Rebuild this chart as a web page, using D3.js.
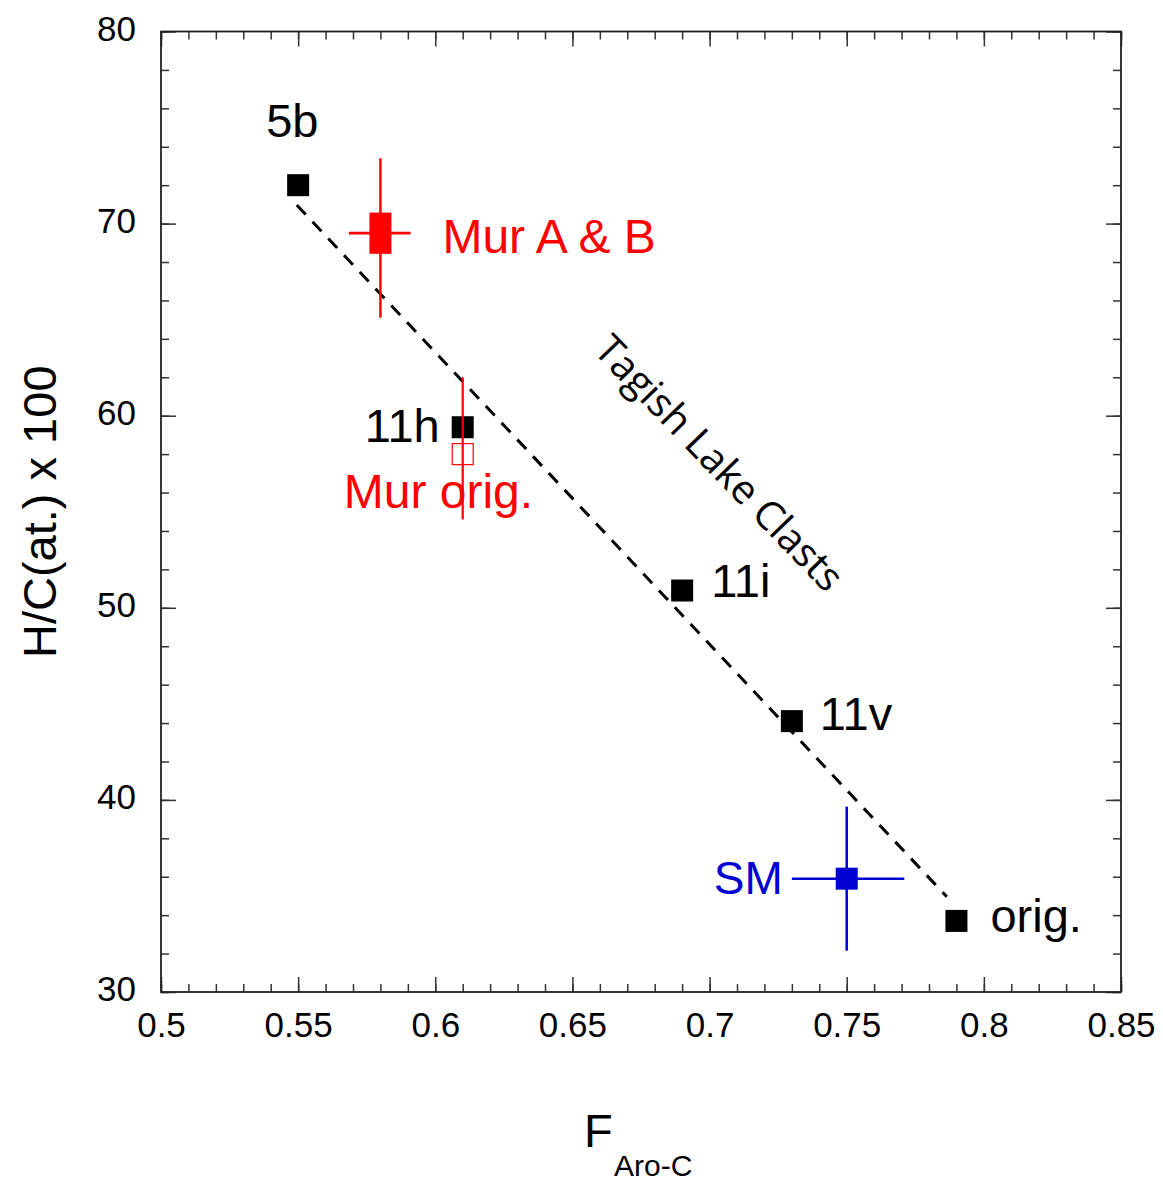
<!DOCTYPE html>
<html>
<head>
<meta charset="utf-8">
<script src="https://cdn.jsdelivr.net/npm/d3@7"></script>
<style>
  body { margin: 0; background: #fff; }
  text { font-family: "Liberation Sans", Arial, Helvetica, sans-serif; }
</style>
</head>
<body>
<svg id="chart" width="1163" height="1184"></svg>
<script>
// ---- data ----
const clastNames = ["5b", "11h", "11i", "11v", "orig."];
const clastF     = [0.55, 0.61, 0.69, 0.73, 0.79];
const clastHC    = [72.0, 59.4, 50.9, 44.1, 33.7];

// Tagish Lake trend (dashed) line endpoints
const trendF  = [0.5495, 0.7865];
const trendHC = [70.97, 34.96];

// Murchison A & B (two overlapping points) with one error cross
const murABNames = ["Mur A", "Mur B"];
const murABF     = [0.58, 0.58];
const murABHC    = [70.0, 69.0];
const murABErr   = { f: 0.58, hc: 69.5, fLow: 0.5685, fHigh: 0.591, hcLow: 65.1, hcHigh: 73.4 };

// Murchison original (open symbol)
const murOrig    = { f: 0.61, hc: 58.0, hcLow: 54.6, hcHigh: 62.0 };

// SM
const smPoint    = { f: 0.75, hc: 35.9, fLow: 0.730, fHigh: 0.771, hcLow: 32.15, hcHigh: 39.65 };

const xMajorTicks = [0.5, 0.55, 0.6, 0.65, 0.7, 0.75, 0.8, 0.85];
const xTickLabels = ["0.5", "0.55", "0.6", "0.65", "0.7", "0.75", "0.8", "0.85"];
const yMajorTicks = [30, 40, 50, 60, 70, 80];
const yTickLabels = ["30", "40", "50", "60", "70", "80"];
const xMinorTicks = d3.range(0, 36).map(i => 0.5 + i * 0.01);
const yMinorTicks = d3.range(0, 26).map(i => 30 + i * 2);

// ---- layout ----
const L = 161, R = 1121, T = 31.5, B = 992;
const RED = "#ff0000", BLUE = "#0000d0";

const svg = d3.select("#chart");
const x = d3.scaleLinear().domain([0.5, 0.85]).range([L, R]);
const y = d3.scaleLinear().domain([30, 80]).range([B, T]);

// ---- axes ----
function styleAxis(g) {
  g.select(".domain").remove();
  g.selectAll(".tick line").attr("stroke", "#333").attr("stroke-width", 1.5);
  g.selectAll(".tick text").attr("fill", "#000").style("font-size", "35px")
    .style("font-family", '"Liberation Sans", Arial, sans-serif');
}
const fmtX = d => xTickLabels[xMajorTicks.indexOf(d)];
const fmtY = d => yTickLabels[yMajorTicks.indexOf(d)];

// minor ticks
svg.append("g").attr("transform", `translate(0,${B})`)
  .call(d3.axisBottom(x).tickValues(xMinorTicks).tickSize(-8).tickFormat(""))
  .call(styleAxis);
svg.append("g").attr("transform", `translate(0,${T})`)
  .call(d3.axisTop(x).tickValues(xMinorTicks).tickSize(-8).tickFormat(""))
  .call(styleAxis);
svg.append("g").attr("transform", `translate(${L},0)`)
  .call(d3.axisLeft(y).tickValues(yMinorTicks).tickSize(-8).tickFormat(""))
  .call(styleAxis);
svg.append("g").attr("transform", `translate(${R},0)`)
  .call(d3.axisRight(y).tickValues(yMinorTicks).tickSize(-8).tickFormat(""))
  .call(styleAxis);

// major ticks
svg.append("g").attr("transform", `translate(0,${B})`)
  .call(d3.axisBottom(x).tickValues(xMajorTicks).tickSize(-15).tickPadding(20).tickFormat(fmtX))
  .call(styleAxis);
svg.append("g").attr("transform", `translate(0,${T})`)
  .call(d3.axisTop(x).tickValues(xMajorTicks).tickSize(-15).tickFormat(""))
  .call(styleAxis);
svg.append("g").attr("transform", `translate(${L},0)`)
  .call(d3.axisLeft(y).tickValues(yMajorTicks).tickSize(-15).tickPadding(25).tickFormat(fmtY))
  .call(styleAxis)
  .call(g => g.selectAll(".tick text").attr("dy", "0.25em"));
svg.append("g").attr("transform", `translate(${R},0)`)
  .call(d3.axisRight(y).tickValues(yMajorTicks).tickSize(-15).tickFormat(""))
  .call(styleAxis);

// frame
svg.append("rect").attr("x", L).attr("y", T).attr("width", R - L).attr("height", B - T)
  .attr("fill", "none").attr("stroke", "#222").attr("stroke-width", 1.8);

// axis titles
svg.append("text").attr("transform", `translate(56,${(T + B) / 2}) rotate(-90)`)
  .attr("text-anchor", "middle").style("font-size", "47px").text("H/C(at.) x 100");
const xt = svg.append("text").attr("x", 584).attr("y", 1147).style("font-size", "47px");
xt.append("tspan").text("F");
xt.append("tspan").attr("x", 614).attr("y", 1176).style("font-size", "30px").text("Aro-C");

// ---- trend line ----
const line = d3.line().x(d => x(d[0])).y(d => y(d[1]));
svg.append("path").datum(d3.zip(trendF, trendHC)).attr("d", line)
  .attr("fill", "none").attr("stroke", "#000").attr("stroke-width", 3)
  .attr("stroke-dasharray", "13,10");

const S = 22; // marker size

// ---- Tagish Lake clasts ----
const clasts = d3.zip(clastNames, clastF, clastHC);
svg.append("g").selectAll("rect").data(clasts).join("rect")
  .attr("x", d => x(d[1]) - S / 2).attr("y", d => y(d[2]) - S / 2)
  .attr("width", S).attr("height", S).attr("fill", "#000");

// clast labels (offsets relative to marker)
const labelOff = {
  "5b":    { dx: -32, dy: -48, anchor: "start" },
  "11h":   { dx: -23, dy: 15, anchor: "end" },
  "11i":   { dx: 29, dy: 6, anchor: "start" },
  "11v":   { dx: 28, dy: 9, anchor: "start" },
  "orig.": { dx: 34, dy: 11, anchor: "start" }
};
svg.append("g").selectAll("text").data(clasts).join("text")
  .attr("x", d => x(d[1]) + labelOff[d[0]].dx)
  .attr("y", d => y(d[2]) + labelOff[d[0]].dy)
  .attr("text-anchor", d => labelOff[d[0]].anchor)
  .style("font-size", "47px").attr("fill", "#000").text(d => d[0]);

// Tagish Lake Clasts rotated label
svg.append("text")
  .attr("transform", `translate(${x(0.7025) + 4},${y(57.9) + 6}) rotate(46)`)
  .attr("text-anchor", "middle").attr("dominant-baseline", "central")
  .style("font-family", '"Open Sans", "Noto Sans", sans-serif')
  .style("font-size", "40px").attr("fill", "#000").text("Tagish Lake Clasts");

// ---- Murchison A & B ----
const mab = svg.append("g");
mab.selectAll("rect").data(d3.zip(murABNames, murABF, murABHC)).join("rect")
  .attr("x", d => x(d[1]) - S / 2).attr("y", d => y(d[2]) - S / 2)
  .attr("width", S).attr("height", S).attr("fill", RED);
mab.append("line").attr("x1", x(murABErr.f)).attr("x2", x(murABErr.f))
  .attr("y1", y(murABErr.hcLow)).attr("y2", y(murABErr.hcHigh))
  .attr("stroke", RED).attr("stroke-width", 2.5);
mab.append("line").attr("x1", x(murABErr.fLow)).attr("x2", x(murABErr.fHigh))
  .attr("y1", y(murABErr.hc)).attr("y2", y(murABErr.hc))
  .attr("stroke", RED).attr("stroke-width", 2.8);
mab.append("text").attr("x", x(murABErr.f) + 62).attr("y", y(murABErr.hc) + 20)
  .style("font-size", "48px").attr("fill", RED).text("Mur A & B");

// ---- Murchison original ----
const mo = svg.append("g");
mo.append("rect").attr("x", x(murOrig.f) - S / 2 + 0.5).attr("y", y(murOrig.hc) - S / 2 + 0.5)
  .attr("width", S - 1).attr("height", S - 1).attr("fill", "#fff")
  .attr("stroke", RED).attr("stroke-width", 1.2);
mo.append("line").attr("x1", x(murOrig.f)).attr("x2", x(murOrig.f))
  .attr("y1", y(murOrig.hcLow)).attr("y2", y(murOrig.hcHigh))
  .attr("stroke", RED).attr("stroke-width", 2.2);
mo.append("text").attr("x", x(murOrig.f) - 119).attr("y", y(murOrig.hc) + 54)
  .style("font-size", "48px").attr("fill", RED).text("Mur orig.");

// ---- SM ----
const sm = svg.append("g");
sm.append("line").attr("x1", x(smPoint.f)).attr("x2", x(smPoint.f))
  .attr("y1", y(smPoint.hcLow)).attr("y2", y(smPoint.hcHigh))
  .attr("stroke", BLUE).attr("stroke-width", 2.5);
sm.append("line").attr("x1", x(smPoint.fLow)).attr("x2", x(smPoint.fHigh))
  .attr("y1", y(smPoint.hc)).attr("y2", y(smPoint.hc))
  .attr("stroke", BLUE).attr("stroke-width", 2.5);
sm.append("rect").attr("x", x(smPoint.f) - S / 2).attr("y", y(smPoint.hc) - S / 2)
  .attr("width", S).attr("height", S).attr("fill", BLUE);
sm.append("text").attr("x", x(smPoint.f) - 64).attr("y", y(smPoint.hc) + 15)
  .attr("text-anchor", "end").style("font-size", "46px").attr("fill", BLUE).text("SM");
</script>
</body>
</html>
